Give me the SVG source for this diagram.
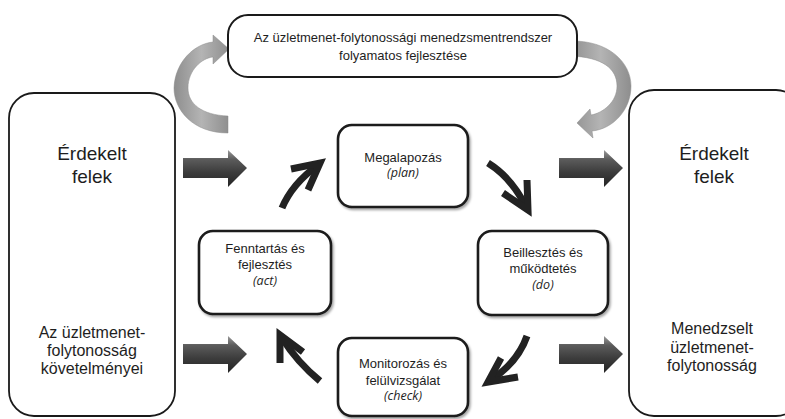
<svg xmlns="http://www.w3.org/2000/svg" width="785" height="419" viewBox="0 0 785 419">
<style>
.outer{fill:#fff;stroke:#1a1a1a;stroke-width:1.8}
.inner{fill:#fff;stroke:#1a1a1a;stroke-width:2.6;filter:url(#sh)}
.t{font-family:"Liberation Sans",Arial,sans-serif;fill:#1e1e1e;text-anchor:middle}
.s13{font-size:13px}
.s16{font-size:16px}
.s19{font-size:19px}
.it{font-family:"Open Sans","Liberation Sans",sans-serif;font-style:italic;font-size:12.5px;fill:#1e1e1e;text-anchor:middle}
.cyc{fill:none;stroke:#222;stroke-width:7;stroke-linecap:butt;stroke-linejoin:miter}
.gray{fill:url(#gg);stroke:#8a8a8a;stroke-width:0.5}
</style>
<defs>
<filter id="sh" x="-10%" y="-10%" width="125%" height="130%">
<feDropShadow dx="1.5" dy="2" stdDeviation="1.2" flood-color="#000" flood-opacity="0.35"/>
</filter>
<linearGradient id="bg" x1="0" y1="0" x2="0" y2="1">
<stop offset="0" stop-color="#9a9a9a"/>
<stop offset="0.25" stop-color="#5c5c5c"/>
<stop offset="0.6" stop-color="#3c3c3c"/>
<stop offset="1" stop-color="#242424"/>
</linearGradient>
<linearGradient id="gg" x1="0" y1="0" x2="1" y2="0">
<stop offset="0" stop-color="#8e8e8e"/>
<stop offset="0.5" stop-color="#b4b4b4"/>
<stop offset="1" stop-color="#8e8e8e"/>
</linearGradient>
<path id="blk" d="M0,-10 L45,-10 L45,-18 L64,0 L45,19 L45,10 L0,10 Z" fill="url(#bg)"/>
</defs>

<g id="connectors">
<path id="gray-left" class="gray" d="M228,133 C193,133 174,110 174,88 C175,62 194,44 213,42 L213,35 L229,49 L213,64 L213,57 C202,58 188,70 188,88 C188,104 202,115 228,116 Z"/>
<path id="gray-right" class="gray" d="M570,41 C608,40 631,62 631,86 C631,110 613,129 592,131 L593,138 L577,123 L590,109 L591,115 C603,113 617,102 617,86 C617,69 603,57 570,56 Z"/>
<use href="#blk" x="183" y="168"/>
<use href="#blk" x="183" y="354"/>
<use href="#blk" x="559" y="168"/>
<use href="#blk" x="559" y="354"/>
<path class="cyc" d="M282,208 Q292,184 318,165"/>
<path class="cyc" d="M291,169 L320,163 L308,190"/>
<path class="cyc" d="M488,163 Q512,178 526,207"/>
<path class="cyc" d="M527,180 L528,210 L503,193"/>
<path class="cyc" d="M527,336 Q518,362 491,380"/>
<path class="cyc" d="M501,358 L488,382 L518,377"/>
<path class="cyc" d="M320,381 Q297,362 282,338"/>
<path class="cyc" d="M280,363 L280,335 L303,352"/>
</g>

<g id="top">
<rect x="228" y="15" width="349" height="62" rx="20" fill="#fff" stroke="#1a1a1a" stroke-width="2"/>
<text class="t s13" x="403" y="42">Az üzletmenet-folytonossági menedzsmentrendszer</text>
<text class="t s13" x="403" y="60">folyamatos fejlesztése</text>
</g>

<g id="left">
<rect class="outer" x="9" y="93" width="166" height="323" rx="25"/>
<text class="t s19" x="92" y="160">Érdekelt</text>
<text class="t s19" x="92" y="183">felek</text>
<text class="t s16" x="92" y="338">Az üzletmenet-</text>
<text class="t s16" x="92" y="356">folytonosság</text>
<text class="t s16" x="92" y="374">követelményei</text>
</g>

<g id="right">
<rect class="outer" x="629" y="90" width="172" height="326" rx="25"/>
<text class="t s19" x="714" y="160">Érdekelt</text>
<text class="t s19" x="714" y="183">felek</text>
<text class="t s16" x="712" y="334">Menedzselt</text>
<text class="t s16" x="712" y="353">üzletmenet-</text>
<text class="t s16" x="712" y="371">folytonosság</text>
</g>

<g id="plan">
<rect class="inner" x="338" y="125" width="130" height="82" rx="14"/>
<text class="t s13" x="403" y="162">Megalapozás</text>
<text class="it" x="403" y="177">(plan)</text>
</g>

<g id="do">
<rect class="inner" x="478" y="231" width="130" height="84" rx="14"/>
<text class="t s13" x="543" y="257">Beillesztés és</text>
<text class="t s13" x="543" y="273">működtetés</text>
<text class="it" x="543" y="289">(do)</text>
</g>

<g id="check">
<rect class="inner" x="338" y="338" width="130" height="78" rx="14"/>
<text class="t s13" x="403" y="368">Monitorozás és</text>
<text class="t s13" x="403" y="385">felülvizsgálat</text>
<text class="it" x="403" y="400">(check)</text>
</g>

<g id="act">
<rect class="inner" x="199" y="231" width="132" height="83" rx="14"/>
<text class="t s13" x="265" y="253">Fenntartás és</text>
<text class="t s13" x="265" y="269">fejlesztés</text>
<text class="it" x="265" y="285">(act)</text>
</g>
</svg>
